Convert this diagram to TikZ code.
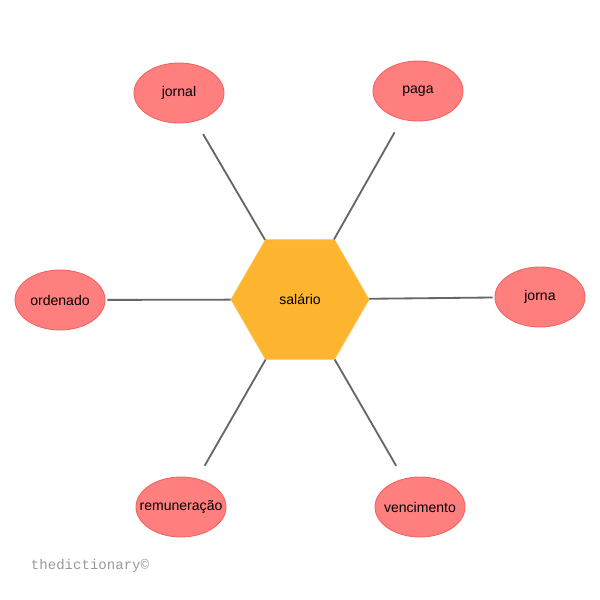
\documentclass[tikz,border=0pt]{standalone}
\usepackage{fontspec}
\setmainfont{Liberation Sans}
\newfontfamily\markfont{Liberation Mono}
\usetikzlibrary{shapes.geometric}
\definecolor{hexfill}{HTML}{FDB52F}
\definecolor{hexline}{HTML}{FFC24F}
\definecolor{wordfill}{HTML}{FF7F7F}
\definecolor{wordline}{HTML}{F26262}
\definecolor{linkline}{HTML}{666666}
\definecolor{markgray}{HTML}{999999}
\begin{document}
\begin{tikzpicture}[x=0.025cm,y=-0.025cm,
  hub/.style={regular polygon, regular polygon sides=6, minimum size=3.45cm, inner sep=0pt,
    fill=hexfill, draw=hexline, line width=0.5pt, font=\fontsize{10pt}{12pt}\selectfont},
  word/.style={ellipse, minimum width=2.25cm, minimum height=1.5cm, inner xsep=-1.2cm, inner ysep=0pt,
    fill=wordfill, draw=wordline, line width=0.6pt, font=\fontsize{10pt}{12pt}\selectfont},
  link/.style={draw=linkline, line width=1.3pt}]
\useasboundingbox [fill=white] (0, 0) rectangle (600, 600);

\node [hub] (salario) at (300, 299.5) {salário};

\node [word] (jornal) at (179, 93) {jornal};
\node [word] (paga) at (418, 91) {paga};
\node [word] (ordenado) at (60, 300) {ordenado};
\node [word] (jorna) at (540, 297) {jorna};
\node [word] (remuneracao) at (181, 507) {remuneração};
\node [word] (vencimento) at (420, 507) {vencimento};

\foreach \w in {jornal, paga, remuneracao, vencimento} {
    \draw [link, shorten >=0.37cm] (salario) -- (\w);
}
\foreach \w in {ordenado, jorna} {
    \draw [link, shorten >=0.05cm] (salario) -- (\w);
}

\node [anchor=west, text=markgray, font=\markfont\fontsize{10pt}{12pt}\selectfont] (mark) at (26, 566) {thedictionary©};
\end{tikzpicture}
\end{document}
